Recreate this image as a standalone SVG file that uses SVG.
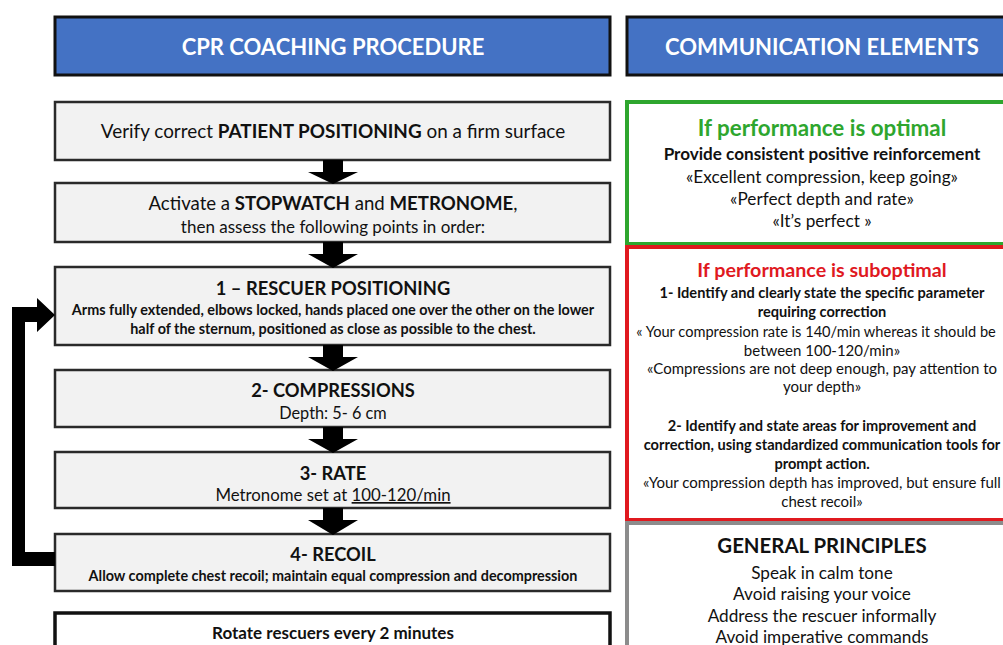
<svg xmlns="http://www.w3.org/2000/svg" width="1003" height="645" viewBox="0 0 1003 645">
<style>
text{font-family:Lato,"Open Sans","Liberation Sans",sans-serif;text-anchor:middle;fill:#111}
.b{font-weight:bold}
.hd{fill:#4472c4;stroke:#111;stroke-width:3}
.ht{fill:#fff;font-weight:bold;font-size:22px}
.box{fill:#f2f2f2;stroke:#2a2a2a;stroke-width:2.5}
.tt{font-size:18.3px;font-weight:bold}
.t12{font-size:14.4px;font-weight:bold}
.r16{font-size:17.2px}
.b13{font-size:14.6px;font-weight:bold}
.r13{font-size:15px}
.arrow{fill:#000}
</style>
<rect width="1003" height="645" fill="#fff"/>
<g id="header-left"><rect class="hd" x="55" y="17" width="555" height="58"/><text class="ht" x="333" y="55">CPR COACHING PROCEDURE</text></g>
<g id="header-right"><rect class="hd" x="627" y="17" width="395" height="58"/><text class="ht" x="822" y="55" font-size="22.9">COMMUNICATION ELEMENTS</text></g>
<g id="step-patient"><rect class="box" x="55" y="102" width="555" height="58"/><text x="333" y="138" font-size="18.9">Verify correct <tspan class="b">PATIENT POSITIONING</tspan> on a firm surface</text></g>
<g id="step-stopwatch"><rect class="box" x="55" y="183" width="555" height="59"/><text x="333" y="210" font-size="18.6">Activate a <tspan class="b">STOPWATCH</tspan> and <tspan class="b">METRONOME</tspan>,</text><text x="333" y="233" font-size="17">then assess the following points in order:</text></g>
<g id="step-rescuer"><rect class="box" x="55" y="267" width="555" height="78"/><text class="tt" x="333" y="295">1 – RESCUER POSITIONING</text><text class="t12" x="333" y="315">Arms fully extended, elbows locked, hands placed one over the other on the lower</text><text class="t12" x="333" y="334">half of the sternum, positioned as close as possible to the chest.</text></g>
<g id="step-compressions"><rect class="box" x="55" y="370" width="555" height="57"/><text class="tt" x="333" y="397">2- COMPRESSIONS</text><text x="333" y="419" font-size="16.3">Depth: 5- 6 cm</text></g>
<g id="step-rate"><rect class="box" x="55" y="452" width="555" height="56"/><text class="tt" x="333" y="480">3- RATE</text><text x="333" y="501" font-size="16.8">Metronome set at <tspan text-decoration="underline">100-120/min</tspan></text></g>
<g id="step-recoil"><rect class="box" x="55" y="534" width="555" height="57"/><text class="tt" x="333" y="561">4- RECOIL</text><text class="t12" x="333" y="581">Allow complete chest recoil; maintain equal compression and decompression</text></g>
<g id="step-rotate"><rect x="55" y="613" width="555" height="50" fill="#fff" stroke="#111" stroke-width="3.5"/><text class="b" x="333" y="639" font-size="17">Rotate rescuers every 2 minutes</text></g>
<g id="optimal"><rect x="627" y="102" width="395" height="142" fill="#fff" stroke="#2ea62e" stroke-width="4"/>
<text class="b" x="822" y="136" font-size="22.4" style="fill:#2ea62e">If performance is optimal</text>
<text class="b" x="822" y="160" font-size="17.1">Provide consistent positive reinforcement</text>
<text class="r16" x="822" y="183">«Excellent compression, keep going»</text>
<text class="r16" x="822" y="205">«Perfect depth and rate»</text>
<text class="r16" x="822" y="227">«It’s perfect »</text></g>
<g id="suboptimal"><rect x="627" y="247" width="395" height="273" fill="#fff" stroke="#e0191f" stroke-width="4"/>
<text class="b" x="822" y="277" font-size="19.7" style="fill:#e0191f">If performance is suboptimal</text>
<text class="b13" x="822" y="298">1- Identify and clearly state the specific parameter</text>
<text class="b13" x="822" y="317">requiring correction</text>
<text x="816" y="337" font-size="14.6">« Your compression rate is 140/min whereas it should be</text>
<text class="r13" x="822" y="356">between 100-120/min»</text>
<text class="r13" x="822" y="374">«Compressions are not deep enough, pay attention to</text>
<text class="r13" x="822" y="392">your depth»</text>
<text class="b13" x="822" y="431">2- Identify and state areas for improvement and</text>
<text class="b13" x="822" y="450">correction, using standardized communication tools for</text>
<text class="b13" x="822" y="469">prompt action.</text>
<text class="r13" x="822" y="488">«Your compression depth has improved, but ensure full</text>
<text class="r13" x="822" y="507">chest recoil»</text></g>
<g id="principles"><rect x="627" y="523" width="395" height="140" fill="#fff" stroke="#8c8c8c" stroke-width="4"/>
<text class="b" x="822" y="553" font-size="20.4">GENERAL PRINCIPLES</text>
<text class="r16" x="822" y="579">Speak in calm tone</text>
<text class="r16" x="822" y="600">Avoid raising your voice</text>
<text class="r16" x="822" y="622">Address the rescuer informally</text>
<text class="r16" x="822" y="643">Avoid imperative commands</text></g>
<g id="connectors">
<path class="arrow" d="M323,160 H343 V172 H358 L333,184 L308,172 H323 Z"/>
<path class="arrow" d="M323,242 H343 V254 H358 L333,268 L308,254 H323 Z"/>
<path class="arrow" d="M323,345 H343 V357 H358 L333,371 L308,357 H323 Z"/>
<path class="arrow" d="M323,427 H343 V439 H358 L333,453 L308,439 H323 Z"/>
<path class="arrow" d="M323,508 H343 V520 H358 L333,535 L308,520 H323 Z"/>
<path class="arrow" d="M55,552 H25 V322 H37 V332 L55,315 L37,298 V307 H12 V566 H55 Z"/>
</g>
</svg>
